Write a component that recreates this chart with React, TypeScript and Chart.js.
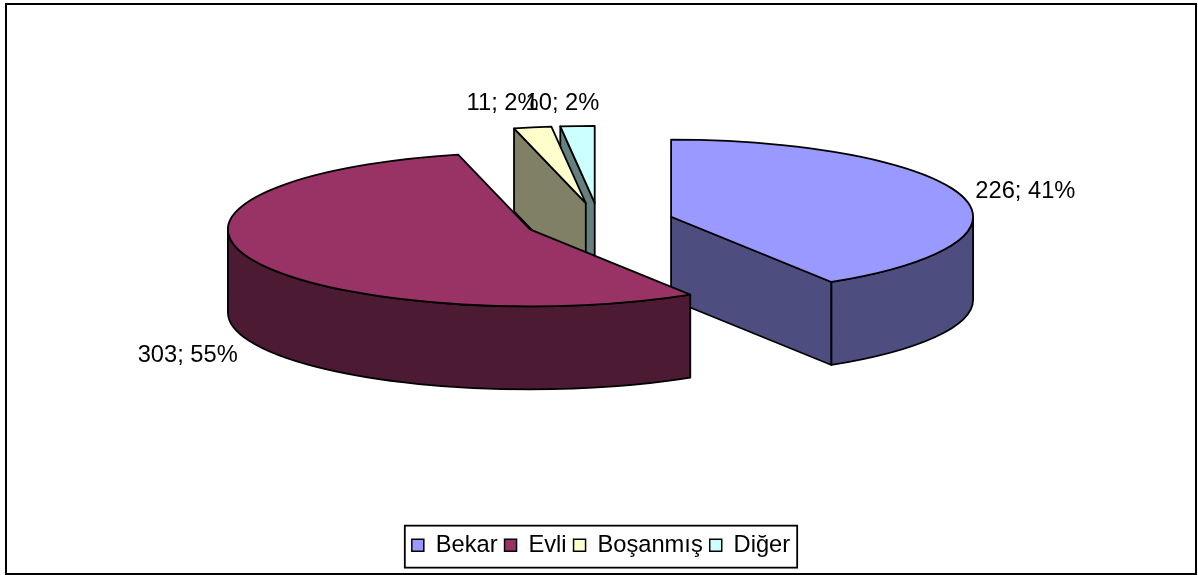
import React, { useEffect, useRef } from "react";
import { Chart, registerables } from "chart.js";

Chart.register(...registerables);

const categories = ["Bekar", "Evli", "Boşanmış", "Diğer"];
const counts = [226, 303, 11, 10];
const percents = [41, 55, 2, 2];
const sliceColors = ["#9999FF", "#993366", "#FFFFCC", "#CCFFFF"];
const sideColors = ["#4D4D80", "#4D1A33", "#808066", "#668080"];

const FONT = '"Liberation Sans", Arial, sans-serif';
const FONT_SIZE = 23.7;
const SQUASH = 0.255;
const DEPTH = 83;
const CENTER_Y = 222;
const PIE_SHIFT_X = -2;
const OUTLINE = 1.8;
const paintOrder = [3, 2, 0, 1];
const labelNudge = [
  [64, -4],
  [-64, 96],
  [-30, -24],
  [-15, -23],
];

const pie3d = {
  id: "pie3d",
  beforeDatasetDraw(chart: any) {
    const ctx = chart.ctx;
    const arcs = chart.getDatasetMeta(0).data;
    const geom = (i: number) => {
      const a = arcs[i];
      const mid = (a.startAngle + a.endAngle) / 2;
      const off = a.options.offset;
      return {
        a,
        mid,
        r: a.outerRadius,
        ry: a.outerRadius * SQUASH,
        cx: a.x + PIE_SHIFT_X + Math.cos(mid) * off,
        cy: CENTER_Y + Math.sin(mid) * off * SQUASH,
      };
    };
    ctx.save();
    ctx.lineWidth = OUTLINE;
    ctx.strokeStyle = "#000";
    ctx.lineJoin = "round";
    for (const i of paintOrder) {
      const { a, r, ry, cx, cy } = geom(i);
      const t0 = a.startAngle;
      const t1 = a.endAngle;
      const px = (t: number) => cx + Math.cos(t) * r;
      const py = (t: number) => cy + Math.sin(t) * ry;
      ctx.fillStyle = sideColors[i];
      const wall = (t: number) => {
        ctx.beginPath();
        ctx.moveTo(cx, cy);
        ctx.lineTo(px(t), py(t));
        ctx.lineTo(px(t), py(t) + DEPTH);
        ctx.lineTo(cx, cy + DEPTH);
        ctx.closePath();
        ctx.fill();
        ctx.stroke();
      };
      if (Math.sin(t0 - Math.PI / 2) > 0.01) wall(t0);
      if (Math.sin(t1 + Math.PI / 2) > 0.01) wall(t1);
      const f0 = Math.max(t0, 0);
      const f1 = Math.min(t1, Math.PI);
      if (f1 > f0) {
        ctx.beginPath();
        ctx.ellipse(cx, cy, r, ry, 0, f0, f1, false);
        ctx.lineTo(px(f1), py(f1) + DEPTH);
        ctx.ellipse(cx, cy + DEPTH, r, ry, 0, f1, f0, true);
        ctx.closePath();
        ctx.fill();
        ctx.stroke();
      }
      ctx.fillStyle = a.options.backgroundColor;
      ctx.beginPath();
      ctx.moveTo(cx, cy);
      ctx.ellipse(cx, cy, r, ry, 0, t0, t1, false);
      ctx.closePath();
      ctx.fill();
      ctx.stroke();
    }
    ctx.fillStyle = "#000";
    ctx.font = `${FONT_SIZE}px ${FONT}`;
    ctx.textAlign = "center";
    ctx.textBaseline = "middle";
    categories.forEach((_, i) => {
      const { mid, r, ry, cx, cy } = geom(i);
      ctx.fillText(
        `${counts[i]}; ${percents[i]}%`,
        cx + Math.cos(mid) * r + labelNudge[i][0],
        cy + Math.sin(mid) * ry + labelNudge[i][1]
      );
    });
    ctx.restore();
    return false;
  },
  afterDraw(chart: any) {
    const ctx = chart.ctx;
    const legend = chart.legend;
    const boxes = legend.legendHitBoxes;
    const pad = 7;
    const halfHeight = 21;
    const left = Math.min(...boxes.map((b: any) => b.left)) - pad;
    const right = Math.max(...boxes.map((b: any) => b.left + b.width)) + pad;
    const middle = (legend.top + legend.bottom) / 2;
    ctx.save();
    ctx.strokeStyle = "#000";
    ctx.lineWidth = 1.8;
    ctx.strokeRect(left, middle - halfHeight, right - left, halfHeight * 2);
    ctx.lineWidth = 2;
    ctx.strokeRect(6, 4, 1190, 570);
    ctx.restore();
  },
};

export default function App() {
  const ref = useRef<HTMLCanvasElement>(null);
  useEffect(() => {
    document.body.style.margin = "0";
    const chart = new Chart(ref.current!, {
      type: "pie",
      data: {
        labels: categories,
        datasets: [
          {
            data: counts,
            backgroundColor: sliceColors,
            borderColor: "#000",
            borderWidth: 1.5,
            radius: 302,
            offset: 75,
          } as any,
        ],
      },
      options: {
        responsive: false,
        animation: false,
        layout: { padding: { left: 4, bottom: 8 } },
        plugins: {
          tooltip: { enabled: false },
          legend: {
            position: "bottom",
            labels: {
              boxWidth: 12,
              boxHeight: 12,
              padding: 7,
              color: "#000",
              font: { family: FONT, size: FONT_SIZE },
            },
          },
        },
      },
      plugins: [pie3d],
    } as any);
    return () => chart.destroy();
  }, []);
  return <canvas ref={ref} width={1198} height={575} style={{ display: "block" }} />;
}
